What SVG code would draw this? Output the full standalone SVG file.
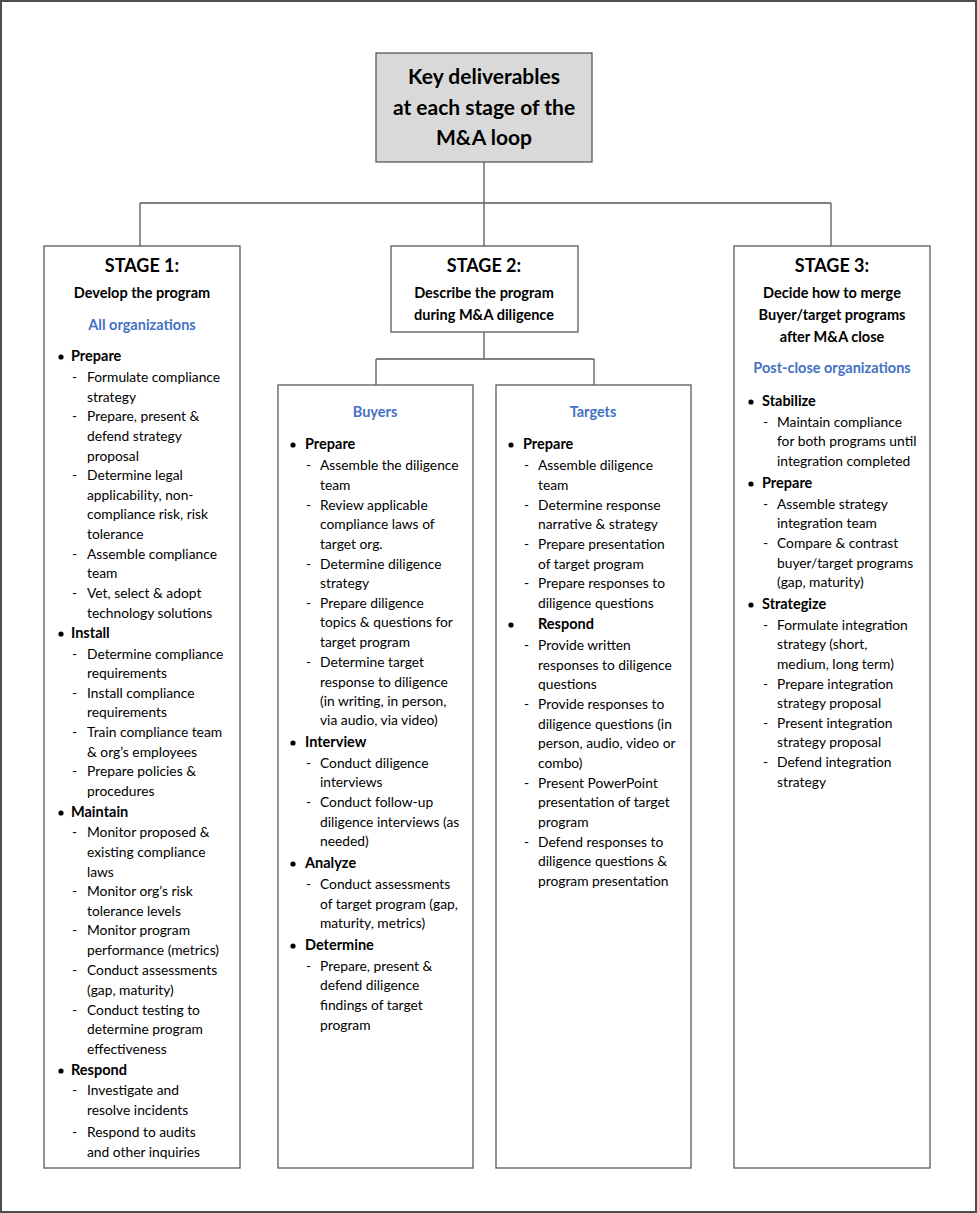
<svg xmlns="http://www.w3.org/2000/svg" width="977" height="1213" viewBox="0 0 977 1213">
<style>
text{font-family:Lato,"Liberation Sans",sans-serif;fill:#000}
.box{fill:#fff;stroke:#595959;stroke-width:1.3}
.ttl{font-size:21px;font-weight:bold;text-anchor:middle}
.st{font-size:18px;font-weight:bold;text-anchor:middle}
.sub{font-size:14.5px;font-weight:bold;text-anchor:middle}
.bl{font-size:14.5px;font-weight:bold;text-anchor:middle;fill:#4472c4}
.h{font-size:14.5px;font-weight:bold}
.t{font-size:13.8px}
.c{stroke:#595959;stroke-width:1.3;fill:none}
</style>
<rect x="1" y="1" width="975" height="1211" fill="#fff" stroke="#4d4d4d" stroke-width="2"/>
<g id="connectors">
<path class="c" d="M484 162V246M140 203H831M140 203V246M831 203V246"/>
<path class="c" d="M484 332V359M376 359H594M376 359V385M594 359V385"/>
</g>
<g id="title">
<rect x="376" y="53" width="216" height="109" fill="#d9d9d9" stroke="#595959" stroke-width="1.3"/>
<text class="ttl" x="484" y="84">Key deliverables</text>
<text class="ttl" x="484" y="115">at each stage of the</text>
<text class="ttl" x="484" y="145">M&amp;A loop</text>
</g>
<g id="stage1">
<rect class="box" x="44" y="246" width="196" height="922"/>
<text class="st" x="142" y="272">STAGE 1:</text>
<text class="sub" x="142" y="298">Develop the program</text>
<text class="bl" x="142" y="330">All organizations</text>
<g fill="#000"><circle cx="61" cy="357" r="2.6"/><circle cx="61" cy="634" r="2.6"/><circle cx="61" cy="813" r="2.6"/><circle cx="61" cy="1071" r="2.6"/></g>
<text class="h" x="71" y="361">Prepare</text>
<g class="t">
<text class="t" x="72" y="382">-</text><text class="t" x="87" y="382">Formulate compliance</text>
<text class="t" x="87" y="402">strategy</text>
<text class="t" x="72" y="421">-</text><text class="t" x="87" y="421">Prepare, present &amp;</text>
<text class="t" x="87" y="441">defend strategy</text>
<text class="t" x="87" y="461">proposal</text>
<text class="t" x="72" y="480">-</text><text class="t" x="87" y="480">Determine legal</text>
<text class="t" x="87" y="500">applicability, non-</text>
<text class="t" x="87" y="519">compliance risk, risk</text>
<text class="t" x="87" y="539">tolerance</text>
<text class="t" x="72" y="559">-</text><text class="t" x="87" y="559">Assemble compliance</text>
<text class="t" x="87" y="578">team</text>
<text class="t" x="72" y="598">-</text><text class="t" x="87" y="598">Vet, select &amp; adopt</text>
<text class="t" x="87" y="618">technology solutions</text>
</g>
<text class="h" x="71" y="638">Install</text>
<text class="t" x="72" y="659">-</text><text class="t" x="87" y="659">Determine compliance</text>
<text class="t" x="87" y="678">requirements</text>
<text class="t" x="72" y="698">-</text><text class="t" x="87" y="698">Install compliance</text>
<text class="t" x="87" y="717">requirements</text>
<text class="t" x="72" y="737">-</text><text class="t" x="87" y="737">Train compliance team</text>
<text class="t" x="87" y="757">&amp; org’s employees</text>
<text class="t" x="72" y="776">-</text><text class="t" x="87" y="776">Prepare policies &amp;</text>
<text class="t" x="87" y="796">procedures</text>
<text class="h" x="71" y="817">Maintain</text>
<text class="t" x="72" y="837">-</text><text class="t" x="87" y="837">Monitor proposed &amp;</text>
<text class="t" x="87" y="857">existing compliance</text>
<text class="t" x="87" y="877">laws</text>
<text class="t" x="72" y="896">-</text><text class="t" x="87" y="896">Monitor org’s risk</text>
<text class="t" x="87" y="916">tolerance levels</text>
<text class="t" x="72" y="935">-</text><text class="t" x="87" y="935">Monitor program</text>
<text class="t" x="87" y="955">performance (metrics)</text>
<text class="t" x="72" y="975">-</text><text class="t" x="87" y="975">Conduct assessments</text>
<text class="t" x="87" y="995">(gap, maturity)</text>
<text class="t" x="72" y="1015">-</text><text class="t" x="87" y="1015">Conduct testing to</text>
<text class="t" x="87" y="1034">determine program</text>
<text class="t" x="87" y="1054">effectiveness</text>
<text class="h" x="71" y="1075">Respond</text>
<text class="t" x="72" y="1095">-</text><text class="t" x="87" y="1095">Investigate and</text>
<text class="t" x="87" y="1115">resolve incidents</text>
<text class="t" x="72" y="1137">-</text><text class="t" x="87" y="1137">Respond to audits</text>
<text class="t" x="87" y="1157">and other inquiries</text>
</g>
<g id="stage2">
<rect class="box" x="391" y="246" width="187" height="86"/>
<text class="st" x="484" y="272">STAGE 2:</text>
<text class="sub" x="484" y="298">Describe the program</text>
<text class="sub" x="484" y="320">during M&amp;A diligence</text>
</g>
<g id="buyers">
<rect class="box" x="278" y="385" width="195" height="783"/>
<text class="bl" x="375" y="417">Buyers</text>
<g fill="#000"><circle cx="293" cy="445" r="2.6"/><circle cx="293" cy="743" r="2.6"/><circle cx="293" cy="864" r="2.6"/><circle cx="293" cy="946" r="2.6"/></g>
<text class="h" x="305" y="449">Prepare</text>
<text class="t" x="306" y="470">-</text><text class="t" x="320" y="470">Assemble the diligence</text>
<text class="t" x="320" y="490">team</text>
<text class="t" x="306" y="510">-</text><text class="t" x="320" y="510">Review applicable</text>
<text class="t" x="320" y="529">compliance laws of</text>
<text class="t" x="320" y="549">target org.</text>
<text class="t" x="306" y="569">-</text><text class="t" x="320" y="569">Determine diligence</text>
<text class="t" x="320" y="588">strategy</text>
<text class="t" x="306" y="608">-</text><text class="t" x="320" y="608">Prepare diligence</text>
<text class="t" x="320" y="627">topics &amp; questions for</text>
<text class="t" x="320" y="647">target program</text>
<text class="t" x="306" y="667">-</text><text class="t" x="320" y="667">Determine target</text>
<text class="t" x="320" y="687">response to diligence</text>
<text class="t" x="320" y="706">(in writing, in person,</text>
<text class="t" x="320" y="725">via audio, via video)</text>
<text class="h" x="305" y="747">Interview</text>
<text class="t" x="306" y="768">-</text><text class="t" x="320" y="768">Conduct diligence</text>
<text class="t" x="320" y="787">interviews</text>
<text class="t" x="306" y="807">-</text><text class="t" x="320" y="807">Conduct follow-up</text>
<text class="t" x="320" y="827">diligence interviews (as</text>
<text class="t" x="320" y="846">needed)</text>
<text class="h" x="305" y="868">Analyze</text>
<text class="t" x="306" y="889">-</text><text class="t" x="320" y="889">Conduct assessments</text>
<text class="t" x="320" y="909">of target program (gap,</text>
<text class="t" x="320" y="928">maturity, metrics)</text>
<text class="h" x="305" y="950">Determine</text>
<text class="t" x="306" y="971">-</text><text class="t" x="320" y="971">Prepare, present &amp;</text>
<text class="t" x="320" y="990">defend diligence</text>
<text class="t" x="320" y="1010">findings of target</text>
<text class="t" x="320" y="1030">program</text>
</g>
<g id="targets">
<rect class="box" x="496" y="385" width="195" height="783"/>
<text class="bl" x="593" y="417">Targets</text>
<g fill="#000"><circle cx="511" cy="445" r="2.6"/><circle cx="511" cy="625" r="2.6"/></g>
<text class="h" x="523" y="449">Prepare</text>
<text class="t" x="524" y="470">-</text><text class="t" x="538" y="470">Assemble diligence</text>
<text class="t" x="538" y="490">team</text>
<text class="t" x="524" y="510">-</text><text class="t" x="538" y="510">Determine response</text>
<text class="t" x="538" y="529">narrative &amp; strategy</text>
<text class="t" x="524" y="549">-</text><text class="t" x="538" y="549">Prepare presentation</text>
<text class="t" x="538" y="569">of target program</text>
<text class="t" x="524" y="588">-</text><text class="t" x="538" y="588">Prepare responses to</text>
<text class="t" x="538" y="608">diligence questions</text>
<text class="h" x="538" y="629">Respond</text>
<text class="t" x="524" y="650">-</text><text class="t" x="538" y="650">Provide written</text>
<text class="t" x="538" y="670">responses to diligence</text>
<text class="t" x="538" y="689">questions</text>
<text class="t" x="524" y="709">-</text><text class="t" x="538" y="709">Provide responses to</text>
<text class="t" x="538" y="729">diligence questions (in</text>
<text class="t" x="538" y="748">person, audio, video or</text>
<text class="t" x="538" y="768">combo)</text>
<text class="t" x="524" y="788">-</text><text class="t" x="538" y="788">Present PowerPoint</text>
<text class="t" x="538" y="807">presentation of target</text>
<text class="t" x="538" y="827">program</text>
<text class="t" x="524" y="847">-</text><text class="t" x="538" y="847">Defend responses to</text>
<text class="t" x="538" y="866">diligence questions &amp;</text>
<text class="t" x="538" y="886">program presentation</text>
</g>
<g id="stage3">
<rect class="box" x="734" y="246" width="196" height="922"/>
<text class="st" x="832" y="272">STAGE 3:</text>
<text class="sub" x="832" y="298">Decide how to merge</text>
<text class="sub" x="832" y="320">Buyer/target programs</text>
<text class="sub" x="832" y="342">after M&amp;A close</text>
<text class="bl" x="832" y="373">Post-close organizations</text>
<g fill="#000"><circle cx="751" cy="402" r="2.6"/><circle cx="751" cy="484" r="2.6"/><circle cx="751" cy="605" r="2.6"/></g>
<text class="h" x="762" y="406">Stabilize</text>
<text class="t" x="763" y="427">-</text><text class="t" x="777" y="427">Maintain compliance</text>
<text class="t" x="777" y="446">for both programs until</text>
<text class="t" x="777" y="466">integration completed</text>
<text class="h" x="762" y="488">Prepare</text>
<text class="t" x="763" y="509">-</text><text class="t" x="777" y="509">Assemble strategy</text>
<text class="t" x="777" y="528">integration team</text>
<text class="t" x="763" y="548">-</text><text class="t" x="777" y="548">Compare &amp; contrast</text>
<text class="t" x="777" y="568">buyer/target programs</text>
<text class="t" x="777" y="587">(gap, maturity)</text>
<text class="h" x="762" y="609">Strategize</text>
<text class="t" x="763" y="630">-</text><text class="t" x="777" y="630">Formulate integration</text>
<text class="t" x="777" y="649">strategy (short,</text>
<text class="t" x="777" y="669">medium, long term)</text>
<text class="t" x="763" y="689">-</text><text class="t" x="777" y="689">Prepare integration</text>
<text class="t" x="777" y="708">strategy proposal</text>
<text class="t" x="763" y="728">-</text><text class="t" x="777" y="728">Present integration</text>
<text class="t" x="777" y="747">strategy proposal</text>
<text class="t" x="763" y="767">-</text><text class="t" x="777" y="767">Defend integration</text>
<text class="t" x="777" y="787">strategy</text>
</g>
</svg>
